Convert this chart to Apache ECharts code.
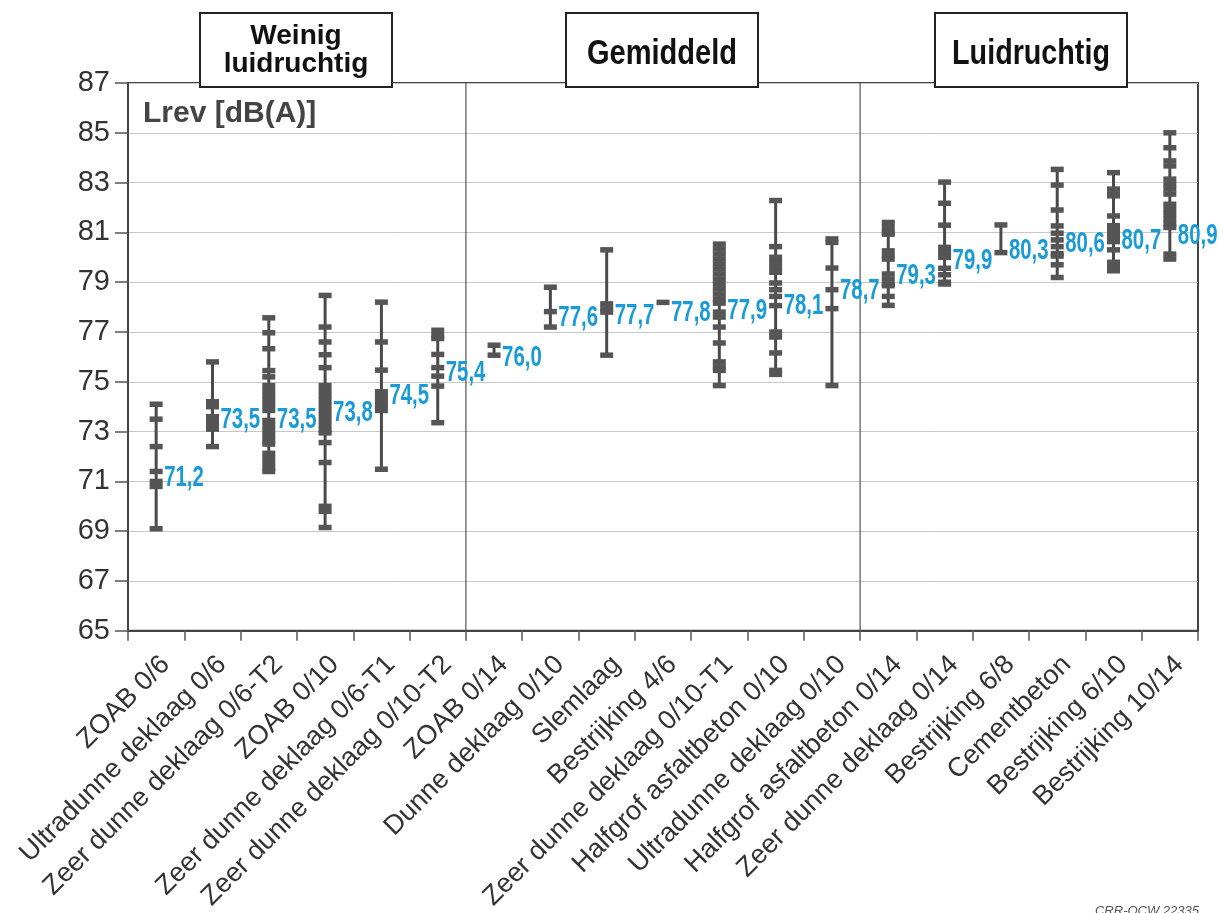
<!DOCTYPE html>
<html><head><meta charset="utf-8">
<script src="https://cdn.jsdelivr.net/npm/echarts@6/dist/echarts.min.js"></script>
<style>html,body{margin:0;padding:0;background:#fff}#c{width:1223px;height:913px}</style>
</head><body><div id="c"></div><script>
const categories = [
  'ZOAB 0/6', 'Ultradunne deklaag 0/6', 'Zeer dunne deklaag 0/6-T2', 'ZOAB 0/10',
  'Zeer dunne deklaag 0/6-T1', 'Zeer dunne deklaag 0/10-T2', 'ZOAB 0/14', 'Dunne deklaag 0/10',
  'Slemlaag', 'Bestrijking 4/6', 'Zeer dunne deklaag 0/10-T1', 'Halfgrof asfaltbeton 0/10',
  'Ultradunne deklaag 0/10', 'Halfgrof asfaltbeton 0/14', 'Zeer dunne deklaag 0/14',
  'Bestrijking 6/8', 'Cementbeton', 'Bestrijking 6/10', 'Bestrijking 10/14'
];
const averages = [71.2, 73.5, 73.5, 73.8, 74.5, 75.4, 76.0, 77.6, 77.7, 77.8, 77.9, 78.1, 78.7, 79.3, 79.9, 80.3, 80.6, 80.7, 80.9];
const m01 = [74.1, 73.5, 72.4, 71.4, 71.0, 70.8, 69.1];
const m02 = [75.8, 74.2, 74.0, 73.6, 73.4, 73.2, 73.1, 72.4];
const m03 = [77.57, 76.97, 76.33, 75.45, 75.2, 74.85, 74.65, 74.45, 74.25, 74.05, 73.85, 73.45, 73.25, 73.05, 72.85, 72.65, 72.5, 72.13, 71.93, 71.73, 71.53, 71.4];
const m04 = [78.47, 77.2, 76.6, 76.09, 75.57, 74.85, 74.65, 74.45, 74.25, 74.05, 73.85, 73.65, 73.45, 73.25, 73.05, 72.95, 72.56, 71.76, 70.0, 69.8, 69.15];
const m05 = [78.2, 76.6, 75.47, 74.6, 74.4, 74.2, 74.0, 73.85, 71.49];
const m06 = [77.07, 76.85, 76.74, 76.1, 75.57, 75.23, 74.83, 73.36];
const m07 = [76.47, 76.07];
const m08 = [78.8, 77.82, 77.2];
const m09 = [80.3, 78.13, 77.93, 77.8, 76.07];
const m10 = [78.19];
const m11 = [80.53, 80.33, 80.13, 79.93, 79.73, 79.53, 79.33, 79.13, 78.93, 78.73, 78.53, 78.33, 78.16, 77.8, 77.6, 77.2, 76.56, 75.8, 75.6, 75.46, 74.85];
const m12 = [82.28, 80.43, 80.0, 79.8, 79.6, 79.4, 78.97, 78.7, 78.43, 78.06, 77.0, 76.8, 76.16, 75.46, 75.3];
const m13 = [80.74, 80.6, 79.57, 78.7, 77.94, 74.85];
const m14 = [81.4, 81.2, 81.0, 80.93, 80.26, 80.06, 79.93, 79.33, 79.13, 78.93, 78.86, 78.43, 78.07];
const m15 = [83.02, 82.17, 81.29, 80.4, 80.2, 80.0, 79.56, 79.3, 79.0, 78.93];
const m16 = [81.3, 80.19];
const m17 = [83.53, 82.9, 81.9, 81.26, 80.97, 80.7, 80.43, 80.15, 80.05, 79.7, 79.19];
const m18 = [83.4, 82.74, 82.54, 82.47, 81.66, 81.27, 81.07, 80.87, 80.8, 80.63, 80.3, 79.8, 79.6, 79.46];
const m19 = [85.0, 84.4, 83.87, 83.67, 83.14, 82.94, 82.74, 82.54, 82.13, 81.93, 81.73, 81.53, 81.33, 81.2, 80.13, 79.93];
const measurements = [m01, m02, m03, m04, m05, m06, m07, m08, m09, m10, m11, m12, m13, m14, m15, m16, m17, m18, m19];
const yTicks = [65, 67, 69, 71, 73, 75, 77, 79, 81, 83, 85, 87];
const groupNames = ['Weinig\nluidruchtig', 'Gemiddeld', 'Luidruchtig'];
const groupLastIndex = [5, 12]; // last category of group 1 and 2

const rangeData = measurements.map((m, i) => [i, Math.min(...m), Math.max(...m)]);
const pointData = [];
measurements.forEach((m, i) => m.forEach(v => pointData.push([i, v])));
const avgData = averages.map((a, i) => [i, a]);

const chart = echarts.init(document.getElementById('c'), null, {renderer: 'canvas'});
const DARK = '#4a4a4a';
chart.setOption({
  animation: false,
  backgroundColor: '#fff',
  grid: {left: 128, right: 25, top: 83, bottom: 281, show: true, borderColor: '#444', borderWidth: 2},
  xAxis: {
    type: 'category', data: categories, boundaryGap: true,
    axisLine: {lineStyle: {color: '#444', width: 2}},
    axisTick: {show: true, interval: 0, length: 10, lineStyle: {color: '#555', width: 1.5}},
    axisLabel: {interval: 0, rotate: 45, fontSize: 27, color: '#333', fontFamily: 'Liberation Sans, Arial, sans-serif',
      margin: 20, verticalAlign: 'top'}
  },
  yAxis: {
    type: 'value', min: 65, max: 87, interval: 2,
    axisLine: {show: true, lineStyle: {color: '#444', width: 2}},
    axisTick: {show: true, length: 13, lineStyle: {color: '#555', width: 1.5}},
    axisLabel: {fontSize: 29, color: '#333', fontFamily: 'Liberation Sans, Arial, sans-serif', margin: 18,
      formatter: v => yTicks.includes(v) ? String(v) : ''},
    splitLine: {show: true, lineStyle: {color: '#c8c8c8', width: 1}}
  },
  series: [
    {
      type: 'custom', name: 'sep', data: groupLastIndex.map(i => [i]), z: 2,
      renderItem: (params, api) => {
        const i = api.value(0);
        const bw = api.size([1, 0])[0];
        const top = api.coord([i, 87]);
        const bot = api.coord([i, 65]);
        const x = top[0] + bw / 2;
        return {type: 'line', shape: {x1: x, y1: top[1], x2: x, y2: bot[1]}, style: {stroke: '#555', lineWidth: 1.2}};
      }
    },
    {
      type: 'custom', name: 'range', data: rangeData, z: 3,
      encode: {x: 0, y: [1, 2]},
      renderItem: (params, api) => {
        const p1 = api.coord([api.value(0), api.value(1)]);
        const p2 = api.coord([api.value(0), api.value(2)]);
        return {type: 'line', shape: {x1: p1[0], y1: p1[1], x2: p2[0], y2: p2[1]}, style: {stroke: DARK, lineWidth: 3}};
      }
    },
    {
      type: 'scatter', name: 'metingen', data: pointData, z: 4,
      symbol: 'rect', symbolSize: [13, 5.5],
      itemStyle: {color: '#555555', opacity: 1}
    },
    {
      type: 'custom', name: 'gemiddelde', data: avgData, z: 6,
      renderItem: (params, api) => {
        const p = api.coord([api.value(0), api.value(1)]);
        return {
          type: 'text', x: p[0] + 8, y: p[1] + 1, scaleX: 0.68, z2: 10,
          style: {text: api.value(1).toFixed(1).replace('.', ','), x: 0, y: 0,
            fill: '#1a9ad6', font: 'bold 30px "Liberation Sans", Arial, sans-serif',
            align: 'left', verticalAlign: 'middle'}
        };
      }
    }
  ],
  graphic: [
    {type: 'text', left: 143, top: 99, style: {text: 'Lrev [dB(A)]', fill: '#444', font: 'bold 30px "Liberation Sans", Arial, sans-serif'}},
    {type: 'rect', shape: {x: 200, y: 13, width: 192, height: 74}, style: {fill: '#fff', stroke: '#222', lineWidth: 2}, z: 100},
    {type: 'text', x: 296, y: 50, z: 101, style: {text: groupNames[0], fill: '#111', font: 'bold 28px "Liberation Sans", Arial, sans-serif', align: 'center', verticalAlign: 'middle', lineHeight: 28}},
    {type: 'rect', shape: {x: 566, y: 13, width: 192, height: 74}, style: {fill: '#fff', stroke: '#222', lineWidth: 2}, z: 100},
    {type: 'text', x: 662, y: 54, scaleX: 0.83, z: 101, style: {text: groupNames[1], fill: '#111', font: 'bold 35px "Liberation Sans", Arial, sans-serif', align: 'center', verticalAlign: 'middle'}},
    {type: 'rect', shape: {x: 935, y: 13, width: 192, height: 74}, style: {fill: '#fff', stroke: '#222', lineWidth: 2}, z: 100},
    {type: 'text', x: 1031, y: 54, scaleX: 0.82, z: 101, style: {text: groupNames[2], fill: '#111', font: 'bold 35px "Liberation Sans", Arial, sans-serif', align: 'center', verticalAlign: 'middle'}},
    {type: 'text', right: 24, top: 905, style: {text: 'CRR-OCW 22335', fill: '#555', font: 'italic 13px "Liberation Sans", Arial, sans-serif'}}
  ]
});
</script></body></html>
